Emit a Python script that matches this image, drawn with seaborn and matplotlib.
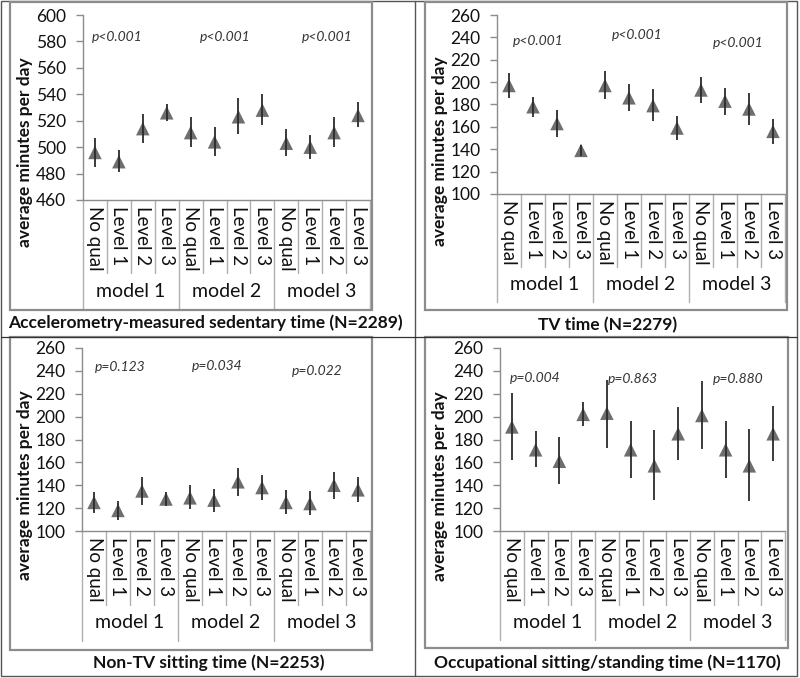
import matplotlib
matplotlib.use("Agg")
import matplotlib.pyplot as plt
from matplotlib.patches import Rectangle
from matplotlib.lines import Line2D
import seaborn as sns
import pandas as pd

# ---------------- data ----------------
levels = ["No qual", "Level 1", "Level 2", "Level 3"]
models = ["model 1", "model 2", "model 3"]

acc_mean = [496, 489, 514, 526, 511, 504, 523, 528, 503, 500, 511, 524]
acc_lo = [485, 481, 503, 520, 500, 493, 510, 517, 493, 491, 500, 515]
acc_hi = [507, 498, 525, 533, 523, 515, 537, 540, 514, 509, 523, 534]
acc_p = ["p<0.001", "p<0.001", "p<0.001"]

tv_mean = [197, 178, 163, 139, 197, 186, 179, 159, 193, 183, 176, 156]
tv_lo = [186, 169, 151, 134, 185, 174, 165, 148, 181, 171, 162, 145]
tv_hi = [208, 187, 175, 144, 210, 198, 194, 170, 205, 195, 190, 167]
tv_p = ["p<0.001", "p<0.001", "p<0.001"]

ntv_mean = [125, 118, 135, 128, 129, 127, 143, 138, 125, 124, 140, 136]
ntv_lo = [116, 110, 123, 122, 119, 117, 131, 127, 115, 114, 128, 125]
ntv_hi = [134, 126, 147, 134, 140, 137, 155, 149, 136, 135, 152, 147]
ntv_p = ["p=0.123", "p=0.034", "p=0.022"]

occ_mean = [191, 171, 161, 202, 203, 171, 157, 185, 201, 171, 157, 185]
occ_lo = [162, 156, 141, 192, 173, 146, 127, 162, 172, 146, 126, 161]
occ_hi = [221, 187, 182, 213, 232, 196, 188, 208, 231, 196, 189, 209]
occ_p = ["p=0.004", "p=0.863", "p=0.880"]

titles = ["Accelerometry-measured sedentary time (N=2289)", "TV time (N=2279)",
          "Non-TV sitting time (N=2253)", "Occupational sitting/standing time (N=1170)"]
ylabel = "average minutes per day"

# ---------------- style ----------------
sns.set_style("white")
plt.rcParams["font.family"] = ["Lato", "DejaVu Sans"]

W, H = 800, 678
fig = plt.figure(figsize=(W / 100, H / 100), dpi=100)


def fx(px):
    return px / W


def fy(py):
    return 1 - py / H


MARK = "#6e6e6e"
AXC = "#8c8c8c"

panels = [
    dict(mean=acc_mean, lo=acc_lo, hi=acc_hi, p=acc_p, ylim=(460, 600), step=20,
         L=83, R=370, T=15, B=200, inner=273, outer=310,
         frame=(10, 2, 372, 310), title_xy=(205, 323), ylab_xy=(25, 152),
         pxy=[(0.92, 583), (5.44, 583), (9.7, 583)]),
    dict(mean=tv_mean, lo=tv_lo, hi=tv_hi, p=tv_p, ylim=(100, 260), step=20,
         L=497, R=785, T=15, B=194, inner=267, outer=302,
         frame=(425, 2, 787, 310), title_xy=(608, 325), ylab_xy=(440, 151),
         pxy=[(1.21, 237), (5.33, 242), (9.54, 235)]),
    dict(mean=ntv_mean, lo=ntv_lo, hi=ntv_hi, p=ntv_p, ylim=(100, 260), step=20,
         L=82, R=370, T=348, B=531, inner=605, outer=641,
         frame=(10, 337, 372, 650), title_xy=(209, 663), ylab_xy=(25, 485),
         pxy=[(1.08, 243), (5.12, 244), (9.29, 240)]),
    dict(mean=occ_mean, lo=occ_lo, hi=occ_hi, p=occ_p, ylim=(100, 260), step=20,
         L=500, R=785, T=348, B=531, inner=605, outer=640,
         frame=(425, 337, 788, 648), title_xy=(607, 663), ylab_xy=(440, 486),
         pxy=[(0.97, 234), (5.1, 233), (9.52, 233)]),
]

cats = [lv for m in models for lv in levels]
pos = list(range(len(cats)))

# outer table lines
fig.add_artist(Rectangle((fx(1), fy(676)), fx(797) - fx(1), fy(1) - fy(676),
                         transform=fig.transFigure, fill=False, ec="#555555", lw=1.0))
fig.add_artist(Line2D([fx(415), fx(415)], [fy(1), fy(676)], transform=fig.transFigure,
                      color="#555555", lw=1.0))
fig.add_artist(Line2D([fx(1), fx(797)], [fy(337), fy(337)], transform=fig.transFigure,
                      color="#333333", lw=0.9))

for idx, pn in enumerate(panels):
    # gray frame of the chart
    x0, y0, x1, y1 = pn["frame"]
    fig.add_artist(Rectangle((fx(x0), fy(y1)), fx(x1) - fx(x0), fy(y0) - fy(y1),
                             transform=fig.transFigure, fill=False, ec=AXC, lw=1.6))

    L, R, T, B = pn["L"], pn["R"], pn["T"], pn["B"]
    ax = fig.add_axes([fx(L), fy(B), fx(R) - fx(L), fy(T) - fy(B)])
    ax.set_facecolor("none")
    hpx = B - T

    df = pd.DataFrame({"pos": pos, "cat": cats, "mean": pn["mean"],
                       "lo": pn["lo"], "hi": pn["hi"]})
    sns.scatterplot(data=df, x="pos", y="mean", marker="^", s=95, color=MARK,
                    edgecolor="none", linewidth=0, ax=ax, legend=False, zorder=3)
    ax.vlines(df["pos"], df["lo"], df["hi"], color="#2b2b2b", lw=1.3, zorder=4)

    ax.set_xlim(-0.5, len(cats) - 0.5)
    ax.set_ylim(*pn["ylim"])
    ax.set_yticks(range(pn["ylim"][0], pn["ylim"][1] + 1, pn["step"]))
    ax.set_xticks([])
    ax.set_xlabel("")
    ax.set_ylabel("")
    for s in ["top", "right"]:
        ax.spines[s].set_visible(False)
    for s in ["left", "bottom"]:
        ax.spines[s].set_color(AXC)
        ax.spines[s].set_linewidth(1.0)
    ax.tick_params(axis="y", direction="out", length=5, width=1, color=AXC,
                   labelsize=12.5, pad=7, labelcolor="#111111", left=True)

    # category labels and dividers
    for i, c in enumerate(cats):
        ax.annotate(c, xy=(i, 0), xycoords=("data", "axes fraction"),
                    xytext=(0, -6), textcoords="offset pixels",
                    rotation=-90, ha="center", va="top", fontsize=13.5, color="#111111")
    for k in range(len(cats) + 1):
        xb = k - 0.5
        bottom_px = pn["outer"] if k % 4 == 0 else pn["inner"]
        yb = -(bottom_px - B) / hpx
        ax.plot([xb, xb], [0, yb], transform=ax.get_xaxis_transform(),
                color="#b0b0b0", lw=1.0, clip_on=False)
    gy = -((pn["inner"] + pn["outer"]) / 2 - B) / hpx
    for j, m in enumerate(models):
        ax.text(4 * j + 1.5, gy, m, transform=ax.get_xaxis_transform(),
                ha="center", va="center", fontsize=14, color="#111111")

    # p-values
    for (px_, py_), ptxt in zip(pn["pxy"], pn["p"]):
        ax.text(px_, py_, ptxt, ha="center", va="center", fontsize=10,
                style="italic", color="#333333")

    # y label and title
    fig.text(fx(pn["ylab_xy"][0]), fy(pn["ylab_xy"][1]), ylabel, rotation=90,
             ha="center", va="center", fontsize=12.5, fontweight="bold", color="#111111")
    fig.text(fx(pn["title_xy"][0]), fy(pn["title_xy"][1]), titles[idx],
             ha="center", va="center", fontsize=12.5, fontweight="bold", color="#111111")

fig.savefig("out.png", dpi=100)
